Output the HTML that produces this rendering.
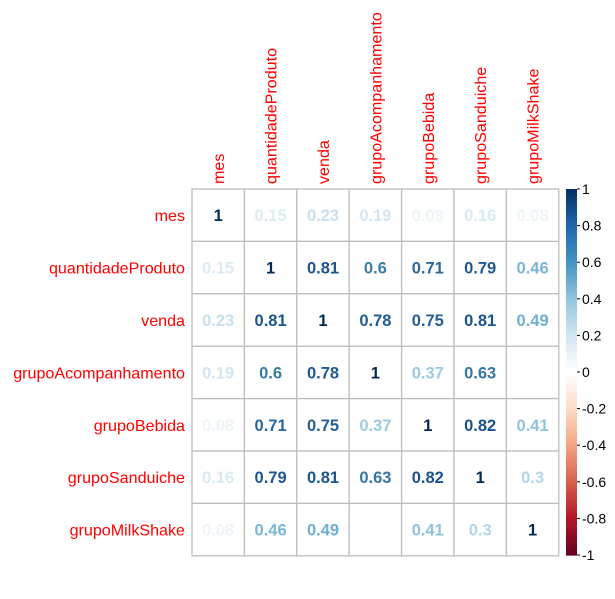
<!DOCTYPE html>
<html><head><meta charset="utf-8"><style>
body{margin:0;background:#fff}
svg text{font-family:"Liberation Sans",Arial,sans-serif}
</style></head><body>
<svg id="c" width="615" height="594"></svg>
<script>
const vars=["mes","quantidadeProduto","venda","grupoAcompanhamento","grupoBebida","grupoSanduiche","grupoMilkShake"];
const corr=[
[1,0.15,0.23,0.19,0.08,0.16,0.08],
[0.15,1,0.81,0.6,0.71,0.79,0.46],
[0.23,0.81,1,0.78,0.75,0.81,0.49],
[0.19,0.6,0.78,1,0.37,0.63,0.01],
[0.08,0.71,0.75,0.37,1,0.82,0.41],
[0.16,0.79,0.81,0.63,0.82,1,0.3],
[0.08,0.46,0.49,0.01,0.41,0.3,1]];
const barTicks=[1,0.8,0.6,0.4,0.2,0,-0.2,-0.4,-0.6,-0.8,-1];
const pal=["#67001F","#B2182B","#D6604D","#F4A582","#FDDBC7","#FFFFFF","#D1E5F0","#92C5DE","#4393C3","#2166AC","#053061"];
function hx(h){return [1,3,5].map(i=>parseInt(h.substr(i,2),16));}
function col(v){const t=(v+1)/2*(pal.length-1);const i=Math.min(Math.floor(t),pal.length-2);const f=t-i;
const a=hx(pal[i]),b=hx(pal[i+1]);return "rgb("+a.map((x,k)=>Math.round(x+(b[k]-x)*f)).join(",")+")";}
function dark(v){const c=col(v).match(/\d+/g).map(Number);return "rgb("+c.map(x=>Math.round(x*0.85)).join(",")+")";}
const X0=192,Y0=189,CS=52.4,N=vars.length;
const svg=document.getElementById('c');const NS="http://www.w3.org/2000/svg";
function el(t,a,p){const e=document.createElementNS(NS,t);for(const k in a)e.setAttribute(k,a[k]);(p||svg).appendChild(e);return e;}
const gx=i=>X0+i*CS, gy=i=>Y0+i*CS;
for(let r=0;r<N;r++)for(let c=0;c<N;c++){
 const v=corr[r][c];
 const rc=el('rect',{x:gx(c),y:gy(r),width:CS,height:CS,fill:'#fff',stroke:'#bebebe','stroke-width':1.3});
 
 
 const t=el('text',{x:gx(c)+CS/2,y:gy(r)+CS/2+6,'text-anchor':'middle','font-size':16.5,'font-weight':'bold',fill:Math.abs(v)>0.5?dark(v):col(v)});
 t.textContent=String(v);
 
 
}
vars.forEach((v,i)=>{
 const t=el('text',{x:185,y:gy(i)+CS/2+6,'text-anchor':'end','font-size':16.1,fill:'#ff0000'});t.textContent=v;
 
 
 const cx=gx(i)+CS/2+6;
 const u=el('text',{x:0,y:0,transform:`translate(${cx},184) rotate(-90)`,'font-size':16.1,fill:'#ff0000'});u.textContent=v;
 
 
});
const BX=566,BW=11,BT=189,BB=555;
const by=v=>BT+(1-v)/2*(BB-BT);
for(let k=0;k<200;k++){const v1=1-k/100;const r=el('rect',{x:BX,y:BT+k*(BB-BT)/200,width:BW,height:(BB-BT)/200+0.6,fill:col(v1-0.005)});
 
 }
barTicks.forEach(v=>{
 const l=el('line',{x1:BX+BW,x2:BX+BW+3,y1:by(v),y2:by(v),stroke:'#000'});
 
 
 const t=el('text',{x:BX+BW+5,y:by(v)+5,'font-size':14,fill:'#000'});t.textContent=String(v);
 
 
});
</script>
</body></html>
